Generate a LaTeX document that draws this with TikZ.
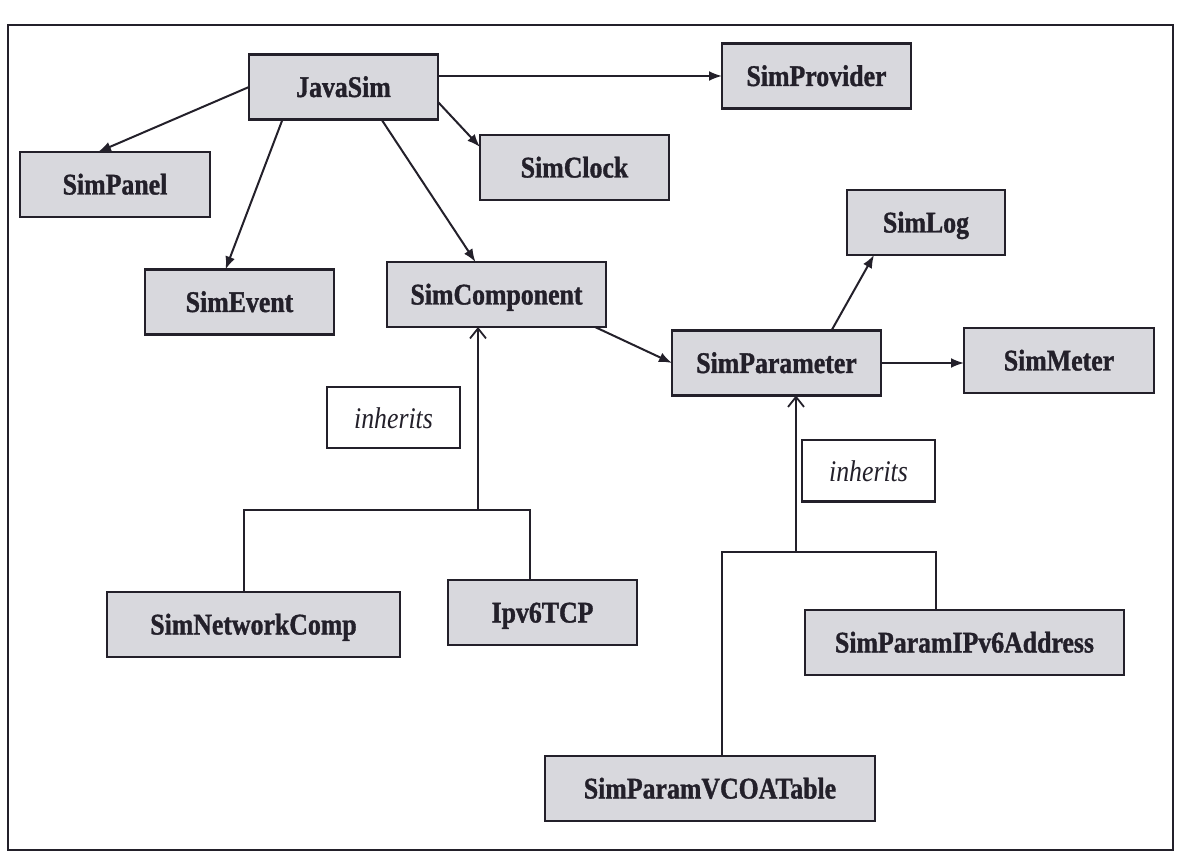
\documentclass[tikz,border=0pt]{standalone}
\usepackage{fontspec}
\setmainfont{Liberation Serif}[FakeStretch=0.86, BoldFeatures={FakeBold=1.2}]
\usetikzlibrary{arrows.meta,calc}

\definecolor{boxfill}{RGB}{216,216,221}
\definecolor{ink}{RGB}{35,32,42}

\tikzset{
  cls/.style={draw=ink, line width=2.2pt, fill=boxfill, minimum height=65pt,
    inner sep=0pt, outer sep=0pt, text=ink,
    font=\fontsize{30}{34}\selectfont\bfseries, text height=20pt, text depth=0pt},
  note/.style={draw=ink, line width=2pt, fill=white, minimum width=133pt,
    minimum height=61pt, inner sep=0pt, outer sep=0pt, text=ink,
    font=\fontsize{30}{34}\selectfont\itshape, text height=22pt, text depth=0pt},
  assoc/.style={draw=ink, line width=2pt, -{Latex[length=13pt,width=10pt]}},
  inh/.style={draw=ink, line width=1.8pt},
  inharrow/.style={inh, -{Straight Barb[length=10pt,width=16pt]}},
}

\begin{document}
\begin{tikzpicture}[x=1pt,y=-1pt]
\useasboundingbox (0,0) rectangle (1184,858);

% outer frame
\draw[line width=2.4pt, ink] (8,25) rectangle (1173,850);

% classes
\node[cls, minimum width=189pt] (JavaSim)     at (343.5,87)   {JavaSim};
\node[cls, minimum width=189pt] (SimProvider) at (816.5,76)   {SimProvider};
\node[cls, minimum width=190pt] (SimPanel)    at (115,184.5)  {SimPanel};
\node[cls, minimum width=189pt] (SimClock)    at (574.5,167.5){SimClock};
\node[cls, minimum width=158pt] (SimLog)      at (926,222.5)  {SimLog};
\node[cls, minimum width=189pt] (SimEvent)    at (239.5,302)  {SimEvent};
\node[cls, minimum width=219pt] (SimComponent) at (496.5,294.5){SimComponent};
\node[cls, minimum width=209pt] (SimParameter) at (776.5,363) {SimParameter};
\node[cls, minimum width=190pt] (SimMeter)    at (1059,360.5) {SimMeter};
\node[cls, minimum width=293pt] (SimNetworkComp) at (253.5,624.5){SimNetworkComp};
\node[cls, minimum width=189pt] (Ipv6TCP)     at (542.5,612.5){Ipv6TCP};
\node[cls, minimum width=319pt] (SimParamIPv6Address) at (964.5,642.5){SimParamIPv6Address};
\node[cls, minimum width=330pt] (SimParamVCOATable)   at (710,788.5)  {SimParamVCOATable};

% relation labels
\node[note] (inhL) at (393.5,418) {inherits};
\node[note] (inhR) at (868.5,471) {inherits};

% associations
\draw[assoc] (SimProvider.west -| JavaSim.east) -- (SimProvider.west);
\draw[assoc] (JavaSim.west) -- ([xshift=-17pt]SimPanel.north);
\draw[assoc] ([xshift=-61pt]JavaSim.south) -- ([xshift=-14pt]SimEvent.north);
\draw[assoc] ([xshift=38pt]JavaSim.south) -- ([xshift=-21pt]SimComponent.north);
\draw[assoc] ([yshift=-15pt]JavaSim.east) -- ([yshift=-12pt]SimClock.north west);
\draw[assoc] ([xshift=-11pt]SimComponent.south east) -- (SimParameter.west);
\draw[assoc] ([xshift=55pt]SimParameter.north) -- ([xshift=-52pt]SimLog.south);
\draw[assoc] (SimParameter.east) -- (SimParameter.east -| SimMeter.west);

% inheritance trees
\coordinate (jL) at (478,510);
\draw[inh] ([xshift=-9.5pt]SimNetworkComp.north) |- (jL) -| ([xshift=-12.5pt]Ipv6TCP.north);
\draw[inharrow] (jL) -- (jL |- SimComponent.south);

\coordinate (jR) at (796,552);
\draw[inh] ([xshift=12pt]SimParamVCOATable.north) |- (jR) -| ([xshift=-28.5pt]SimParamIPv6Address.north);
\draw[inharrow] (jR) -- (jR |- SimParameter.south);
\end{tikzpicture}
\end{document}
